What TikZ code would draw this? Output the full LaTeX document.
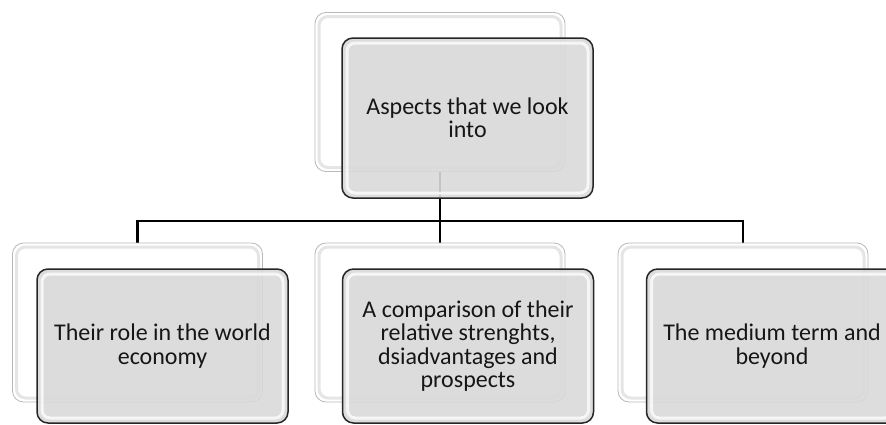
\documentclass[tikz,border=0pt]{standalone}
\usepackage{fontspec}
\setmainfont{Carlito}
\usepackage{xcolor}

\definecolor{boxgray}{HTML}{D9D9D9}
\definecolor{inkgray}{HTML}{161616}

\tikzset{
	back/.style={draw=black!28, line width=0.8pt, fill=white, rounded corners=11pt,
		minimum width=250pt, minimum height=159pt, inner sep=0pt,
		path picture={\draw[black!10, line width=3pt, rounded corners=9pt]
			([shift={(4pt,-4pt)}]path picture bounding box.north west) rectangle
			([shift={(-4pt,4pt)}]path picture bounding box.south east);}},
	front/.style={draw=black!85, line width=1.5pt, fill=boxgray, fill opacity=0.9, text opacity=1,
		rounded corners=11pt, minimum width=251pt, inner sep=0pt, align=center,
		text=inkgray, font=\fontsize{24}{23.4}\selectfont,
		path picture={\draw[white, opacity=0.75, line width=3pt, rounded corners=8pt]
			([shift={(5pt,-5pt)}]path picture bounding box.north west) rectangle
			([shift={(-5pt,5pt)}]path picture bounding box.south east);}},
	link/.style={line width=2.6pt, black}
}

\begin{document}
\begin{tikzpicture}[x=1pt, y=-1pt]
		\clip (0, 0) rectangle (886, 424);
		% Top box
		\node[back] (topback) at (440, 92) {};
		% Connectors
		\coordinate (bar) at (440, 221);
		\draw[link] (topback.south) to (bar);
		\draw[link] (137.5, 243) |- (bar);
		\draw[link, shorten >=-1.3pt] (bar) to (440, 243);
		\draw[link] (bar) -| (743, 243);
		\node[front, minimum height=160pt] (top) at (467.5, 118) {Aspects that we look\\into};
		% Bottom row
		%% Back boxes
		\node[back] (Lback) at (137.5, 322.5) {};
		\node[back] (Mback) at (440, 322.5) {};
		\node[back] (Rback) at (743, 322.5) {};
		%% Front boxes
		\node[front, minimum height=154pt] (L) at (162.5, 346) {Their role in the world\\economy};
		\node[front, minimum height=154pt] (M) at (468, 346) {A comparison of their\\relative strenghts,\\dsiadvantages and\\prospects};
		\node[front, minimum height=154pt] (R) at (772, 346) {The medium term and\\beyond};
	\end{tikzpicture}
\end{document}
